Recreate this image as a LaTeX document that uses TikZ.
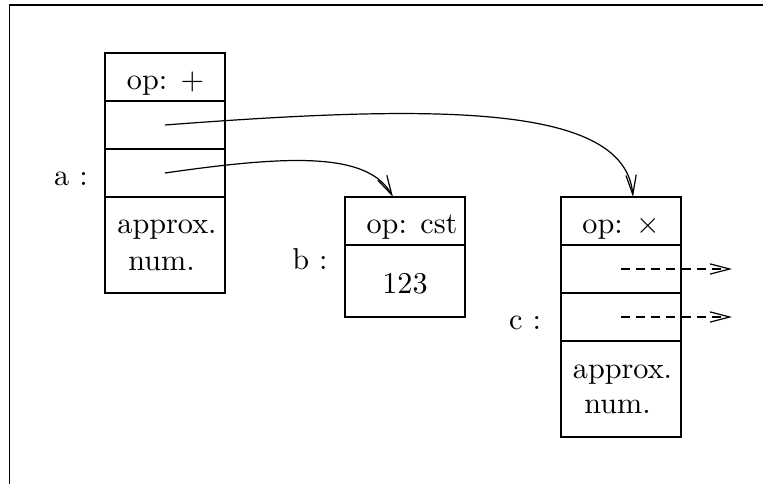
\documentclass[tikz,border=0pt]{standalone}
\usetikzlibrary{arrows.meta}
\begin{document}
\begin{tikzpicture}[x=0.331pt,y=-0.331pt,
  cell/.style={draw,line width=0.4pt,inner sep=0pt,minimum width=39.72pt},
  row/.style={cell,minimum height=15.89pt},
  bigrow/.style={cell,minimum height=31.78pt},
  midrow/.style={cell,minimum height=23.83pt},
  txt/.style={anchor=base,inner sep=0pt,font=\fontsize{10}{12}\selectfont},
  ptr/.style={line width=0.4pt,-{Straight Barb[length=6.5pt,width=3.4pt,line width=0.4pt]}}]
\useasboundingbox (0,0) rectangle (763,484);
% frame (cut at right and bottom)
\draw[line width=0.5pt] (9.5,484) -- (9.5,5) -- (763,5);
% box a
\node[row] (a1) at (165,77) {};
\node[row] (a2) at (165,125) {};
\node[row] (a3) at (165,173) {};
\node[bigrow] (a4) at (165,245) {};
% box b
\node[row] (b1) at (405,221) {};
\node[midrow] (b2) at (405,281) {};
% box c
\node[row] (c1) at (621,221) {};
\node[row] (c2) at (621,269) {};
\node[row] (c3) at (621,317) {};
\node[bigrow] (c4) at (621,389) {};
% texts
\node[txt] (ta1) at (165.5,90) {op: $+$};
\node[txt] (ta4a) at (167,233) {approx.};
\node[txt] (ta4b) at (161.5,270) {num.};
\node[txt] (la) at (71,185) {a :};
\node[txt] (tb1) at (412,233) {op: cst};
\node[txt] (tb2) at (405,293) {123};
\node[txt] (lb) at (310,269) {b :};
\node[txt] (tc1) at (621,233) {op: $\times$};
\node[txt] (tc4a) at (622.5,378) {approx.};
\node[txt] (tc4b) at (617.5,413) {num.};
\node[txt] (lc) at (525,329) {c :};
% pointers
\coordinate (pa2) at (165,125);
\coordinate (pa3) at (165,173);
\coordinate (tipb) at (393,197);
\coordinate (tipc) at (633,197);
\draw[ptr] (pa2) .. controls (440,104) and (625,104) .. (tipc);
\draw[ptr] (pa3) .. controls (290,155) and (368,152) .. (tipb);
\coordinate (pc2) at (621,269);
\coordinate (pc3) at (621,317);
\coordinate (ec2) at (732,269);
\coordinate (ec3) at (732,317);
\draw[ptr,dash pattern=on 3pt off 2pt] (pc2) -- (ec2);
\draw[ptr,dash pattern=on 3pt off 2pt] (pc3) -- (ec3);
\end{tikzpicture}
\end{document}
